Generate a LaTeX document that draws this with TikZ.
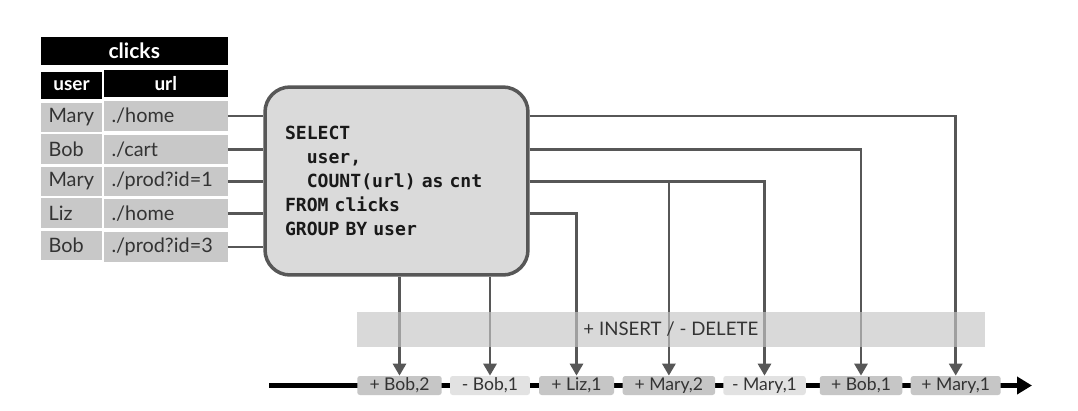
\documentclass[tikz,border=0pt]{standalone}
\usepackage{fontspec}
\setmainfont{Lato}
\newfontfamily\sqlfont{DejaVu Sans Mono}
\usetikzlibrary{matrix,positioning,arrows.meta}
\definecolor{wire}{HTML}{575757}
\definecolor{cellgray}{HTML}{C8C8C8}
\definecolor{boxgray}{HTML}{DADADA}
\definecolor{bandgray}{HTML}{C6C6C6}
\definecolor{plusgray}{HTML}{C6C6C6}
\definecolor{minusgray}{HTML}{E2E2E2}
\definecolor{txt}{HTML}{333333}

\begin{document}
\begin{tikzpicture}[x=0.02cm,y=-0.02cm,
    wire/.style={draw=wire,line width=1.6pt},
    flow/.style={wire,-{Triangle[length=0.24cm,width=0.26cm]}},
    event/.style={rounded corners=1.5pt,minimum height=0.38cm,inner sep=0pt,text=txt,font=\fontsize{10}{11}\selectfont},
    plus/.style={event,fill=plusgray},
    minus/.style={event,fill=minusgray}]
\useasboundingbox[fill=white] (0,0) rectangle (1078,410);
% input table
\matrix (t) [matrix of nodes, anchor=north west, inner sep=0pt, row sep=0.045cm, column sep=0.04cm,
    nodes={fill=cellgray,text=txt,minimum height=0.59cm,inner xsep=0.15cm,inner ysep=0pt,align=left,font=\fontsize{11.3}{12}\selectfont},
    column 1/.style={nodes={text width=0.92cm}},
    column 2/.style={nodes={text width=2.17cm}},
    row 1/.style={nodes={fill=black,text=white,align=center,minimum height=0.53cm,font=\bfseries\fontsize{10.8}{12}\selectfont}}]
    at (40.7,70)
{
    user & url\\
    Mary & ./home\\
    Bob & ./cart\\
    Mary & ./prod?id=1\\
    Liz & ./home\\
    Bob & ./prod?id=3\\
};
\node (clicks) [fill=black,text=white,minimum width=3.73cm,minimum height=0.57cm,inner sep=0pt,
    font=\bfseries\fontsize{12}{13}\selectfont,above=0.086cm of t] {clicks};
% query
\node (q) [draw=wire,line width=2pt,fill=boxgray,rounded corners=0.5cm,minimum width=5.26cm,minimum height=3.76cm,
    text width=4.46cm,inner xsep=0.4cm,align=left,text=black!90,font=\sqlfont\bfseries\fontsize{10.3}{13.6}\selectfont]
    at (396.5,181) {SELECT\\ \phantom{xx}user,\\ \phantom{xx}COUNT(url) as cnt\\ FROM clicks\\ GROUP BY user};
% changelog
\coordinate (tl0) at (269,385.5);
\coordinate (tl1) at (1032,385.5);
\draw[line width=3pt,-{Triangle[length=0.3cm,width=0.34cm]}] (tl0) -- (tl1);
\node (e1) [plus,minimum width=1.69cm] at (399.5,385.5) {+ Bob,2};
\node (e2) [minus,minimum width=1.6cm] at (490,385.5) {- Bob,1};
\node (e3) [plus,minimum width=1.5cm] at (576.5,385.5) {+ Liz,1};
\node (e4) [plus,minimum width=1.85cm] at (668.9,385.5) {+ Mary,2};
\node (e5) [minus,minimum width=1.65cm] at (764.5,385.5) {- Mary,1};
\node (e6) [plus,minimum width=1.65cm] at (861,385.5) {+ Bob,1};
\node (e7) [plus,minimum width=1.8cm] at (955.7,385.5) {+ Mary,1};
% wires
\foreach \r in {2,...,6}
    \draw[wire] (t-\r-2.east) -- (t-\r-2 -| q.west);
\draw[flow] (t-2-2 -| q.east) -| (e7);
\draw[flow] (t-3-2 -| q.east) -| (e6);
\draw[flow] (t-4-2 -| q.east) -| (e5);
\draw[flow] (t-4-2 -| e4) -- (e4);
\draw[flow] (t-5-2 -| q.east) -| (e3);
\draw[flow] (q.south -| e2) -- (e2);
\draw[flow] (q.south -| e1) -- (e1);
\node (band) [fill=bandgray,fill opacity=0.65,text opacity=1,text=txt,minimum width=12.57cm,minimum height=0.7cm,
    font=\fontsize{10.6}{12}\selectfont] at (670.85,329.2) {+ INSERT / - DELETE};
\end{tikzpicture}
\end{document}
